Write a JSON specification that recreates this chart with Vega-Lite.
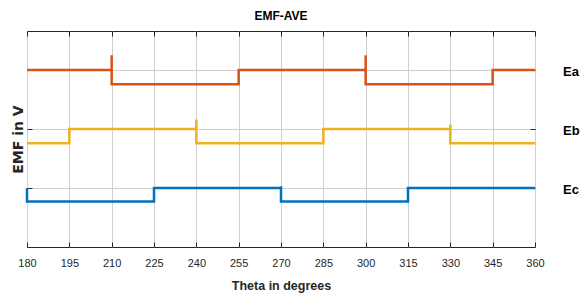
{
  "$schema": "https://vega.github.io/schema/vega-lite/v6.json",
  "width": 508,
  "height": 216,
  "autosize": "none",
  "padding": {"left": 27, "top": 31, "right": 48, "bottom": 46},
  "background": "white",
  "config": {
    "view": {"stroke": "#262626", "strokeWidth": 1},
    "font": "Liberation Sans",
    "axis": {"domain": false, "gridColor": "#cfcfcf", "gridOpacity": 1, "gridWidth": 1, "tickColor": "#262626", "tickWidth": 1}
  },
  "title": {"text": "EMF-AVE", "fontSize": 12, "fontWeight": "bold", "font": "Liberation Sans", "color": "#000000", "offset": 8},
  "datasets": {
    "lines": [
      {"s": "Ea", "i": 1, "x": 180, "y": 3},
      {"s": "Ea", "i": 2, "x": 210, "y": 3},
      {"s": "Ea", "i": 3, "x": 210, "y": 3.25},
      {"s": "Ea", "i": 4, "x": 210, "y": 2.76},
      {"s": "Ea", "i": 5, "x": 255, "y": 2.76},
      {"s": "Ea", "i": 6, "x": 255, "y": 3},
      {"s": "Ea", "i": 7, "x": 300, "y": 3},
      {"s": "Ea", "i": 8, "x": 300, "y": 3.25},
      {"s": "Ea", "i": 9, "x": 300, "y": 2.76},
      {"s": "Ea", "i": 10, "x": 345, "y": 2.76},
      {"s": "Ea", "i": 11, "x": 345, "y": 3},
      {"s": "Ea", "i": 12, "x": 360, "y": 3},
      {"s": "Eb", "i": 1, "x": 180, "y": 1.76},
      {"s": "Eb", "i": 2, "x": 195, "y": 1.76},
      {"s": "Eb", "i": 3, "x": 195, "y": 2},
      {"s": "Eb", "i": 4, "x": 240, "y": 2},
      {"s": "Eb", "i": 5, "x": 240, "y": 2.16},
      {"s": "Eb", "i": 6, "x": 240, "y": 1.76},
      {"s": "Eb", "i": 7, "x": 285, "y": 1.76},
      {"s": "Eb", "i": 8, "x": 285, "y": 2},
      {"s": "Eb", "i": 9, "x": 330, "y": 2},
      {"s": "Eb", "i": 10, "x": 330, "y": 2.07},
      {"s": "Eb", "i": 11, "x": 330, "y": 1.76},
      {"s": "Eb", "i": 12, "x": 360, "y": 1.76},
      {"s": "Ec", "i": 1, "x": 180, "y": 1},
      {"s": "Ec", "i": 2, "x": 180, "y": 0.77},
      {"s": "Ec", "i": 3, "x": 225, "y": 0.77},
      {"s": "Ec", "i": 4, "x": 225, "y": 1},
      {"s": "Ec", "i": 5, "x": 270, "y": 1},
      {"s": "Ec", "i": 6, "x": 270, "y": 1.03},
      {"s": "Ec", "i": 7, "x": 270, "y": 0.77},
      {"s": "Ec", "i": 8, "x": 315, "y": 0.77},
      {"s": "Ec", "i": 9, "x": 315, "y": 1},
      {"s": "Ec", "i": 10, "x": 360, "y": 1}
    ],
    "labels": [
      {"s": "Ea", "x": 360, "y": 3},
      {"s": "Eb", "x": 360, "y": 2},
      {"s": "Ec", "x": 360, "y": 1}
    ]
  },
  "layer": [
    {
      "data": {"name": "lines"},
      "mark": {"type": "line", "strokeWidth": 2.5, "strokeJoin": "miter"},
      "encoding": {
        "x": {
          "field": "x", "type": "quantitative",
          "scale": {"domain": [180, 360], "nice": false, "zero": false},
          "axis": {
            "orient": "bottom", "values": [180,195,210,225,240,255,270,285,300,315,330,345,360],
            "title": "Theta in degrees", "titleFontSize": 12.5, "titleFontWeight": "bold", "titleColor": "#262626", "titlePadding": 11,
            "labelFontSize": 11, "labelColor": "#262626", "labelPadding": 15, "labelFlush": false, "tickSize": -5, "grid": true
          }
        },
        "y": {
          "field": "y", "type": "quantitative",
          "scale": {"domain": [0, 3.661], "nice": false, "zero": false},
          "axis": {
            "orient": "left", "values": [1, 2, 3], "labels": false, "tickSize": -5, "grid": true,
            "title": "EMF in V", "titleFont": "DejaVu Sans", "titleFontSize": 14, "titleFontWeight": "bold", "titleColor": "#262626", "titlePadding": 1
          }
        },
        "color": {
          "field": "s", "type": "nominal", "legend": null,
          "scale": {"domain": ["Ea", "Eb", "Ec"], "range": ["#D95319", "#EDB120", "#0072BD"]}
        },
        "order": {"field": "i", "type": "quantitative"}
      }
    },
    {
      "data": {"name": "labels"},
      "mark": {"type": "text", "align": "left", "baseline": "middle", "dx": 28, "dy": 2, "fontSize": 13, "fontWeight": "bold", "color": "#000000"},
      "encoding": {
        "x": {"field": "x", "type": "quantitative", "axis": {"orient": "top", "values": [180,195,210,225,240,255,270,285,300,315,330,345,360], "labels": false, "title": null, "grid": false, "tickSize": -5}},
        "y": {"field": "y", "type": "quantitative", "axis": {"orient": "right", "values": [1, 2, 3], "labels": false, "title": null, "grid": false, "tickSize": -5}},
        "text": {"field": "s"}
      }
    }
  ],
  "resolve": {"axis": {"x": "independent", "y": "independent"}}
}
